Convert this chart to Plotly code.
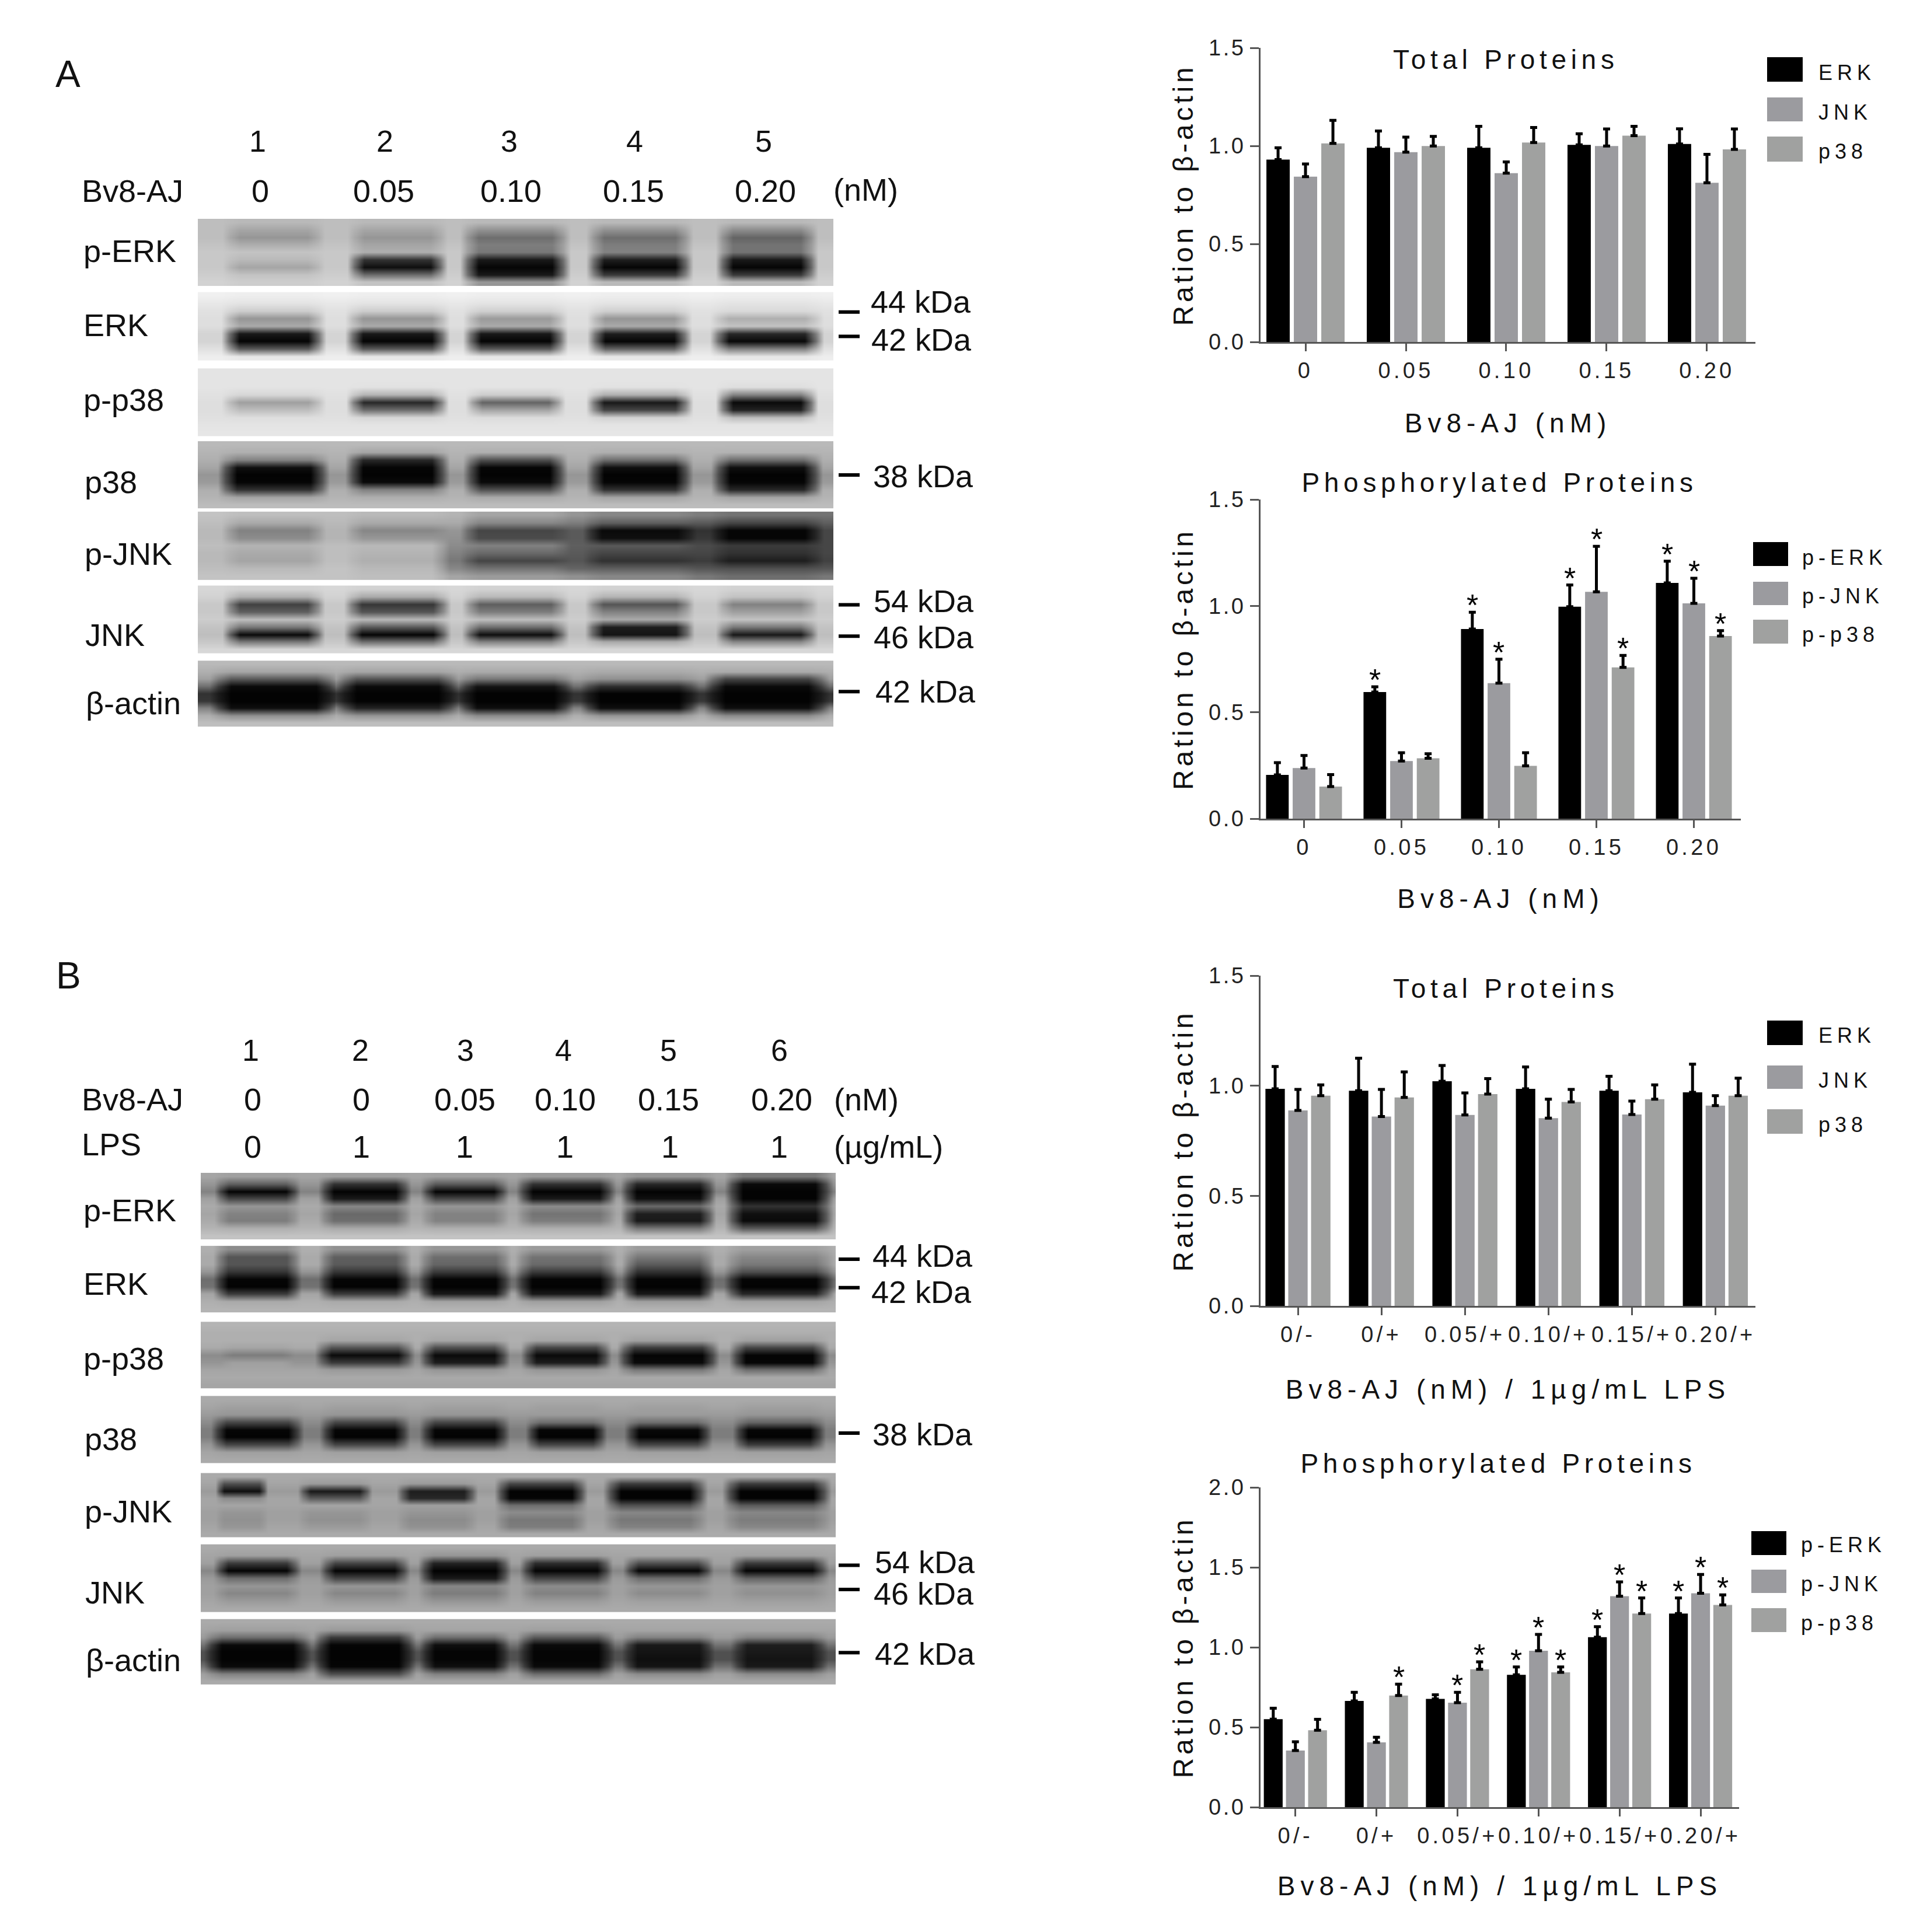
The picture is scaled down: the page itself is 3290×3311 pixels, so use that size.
import json
import plotly.graph_objects as go

W, H = 3290, 3311
FONT = "Liberation Sans"
BLACK, GREY1, GREY2 = "#000000", "#9b9b9f", "#a0a1a0"
AXIS = "#555555"

# ---------- chart data ----------
dose_a = ["0", "0.05", "0.10", "0.15", "0.20"]
dose_b = ["0/-", "0/+", "0.05/+", "0.10/+", "0.15/+", "0.20/+"]

a1_erk = [0.93, 0.99, 0.99, 1.005, 1.01]
a1_erk_err = [0.06, 0.086, 0.11, 0.057, 0.077]
a1_jnk = [0.843, 0.968, 0.861, 0.999, 0.812]
a1_jnk_err = [0.065, 0.077, 0.057, 0.087, 0.145]
a1_p38 = [1.013, 0.999, 1.017, 1.052, 0.982]
a1_p38_err = [0.117, 0.049, 0.077, 0.048, 0.104]

a2_erk = [0.206, 0.595, 0.891, 0.996, 1.108]
a2_erk_err = [0.057, 0.025, 0.079, 0.102, 0.102]
a2_jnk = [0.238, 0.271, 0.637, 1.066, 1.012]
a2_jnk_err = [0.059, 0.039, 0.112, 0.214, 0.118]
a2_p38 = [0.151, 0.284, 0.248, 0.711, 0.858]
a2_p38_err = [0.056, 0.021, 0.062, 0.056, 0.026]
a2_erk_star = [0, 1, 1, 1, 1]
a2_jnk_star = [0, 0, 1, 1, 1]
a2_p38_star = [0, 0, 0, 1, 1]

b1_erk = [0.986, 0.977, 1.02, 0.986, 0.977, 0.97]
b1_erk_err = [0.101, 0.148, 0.072, 0.099, 0.066, 0.128]
b1_jnk = [0.888, 0.86, 0.867, 0.853, 0.869, 0.91]
b1_jnk_err = [0.095, 0.123, 0.1, 0.086, 0.061, 0.045]
b1_p38 = [0.955, 0.947, 0.962, 0.926, 0.939, 0.955]
b1_p38_err = [0.049, 0.116, 0.07, 0.057, 0.065, 0.079]

b2_erk = [0.55, 0.664, 0.677, 0.828, 1.063, 1.211]
b2_erk_err = [0.069, 0.054, 0.026, 0.049, 0.066, 0.097]
b2_jnk = [0.354, 0.405, 0.653, 0.978, 1.319, 1.338]
b2_jnk_err = [0.055, 0.032, 0.065, 0.102, 0.09, 0.117]
b2_p38 = [0.481, 0.698, 0.862, 0.843, 1.211, 1.265]
b2_p38_err = [0.068, 0.071, 0.047, 0.034, 0.097, 0.063]
b2_erk_star = [0, 0, 0, 1, 1, 1]
b2_jnk_star = [0, 0, 1, 1, 1, 1]
b2_p38_star = [0, 1, 1, 1, 1, 1]

total_names = ["ERK", "JNK", "p38"]
phos_names = ["p-ERK", "p-JNK", "p-p38"]

# ---------- blot grey levels: each row = [gap, lane 1, lane 2, ...] ----------
ab_perk = [
    [190, 185, 185, 185, 185, 185], [190, 165, 165, 145, 145, 140], [190, 150, 150, 110, 110, 100],
    [195, 175, 165, 125, 125, 115], [200, 195, 175, 120, 130, 115], [200, 185, 50, 25, 30, 25],
    [200, 165, 15, 5, 5, 5], [205, 195, 110, 25, 60, 60], [210, 205, 195, 150, 185, 185]]
ab_erk = [
    [240, 238, 238, 238, 238, 238], [232, 228, 228, 228, 228, 228], [225, 205, 205, 208, 208, 218],
    [222, 150, 150, 155, 150, 175], [222, 170, 170, 170, 170, 195], [212, 25, 25, 25, 30, 40],
    [212, 6, 6, 6, 6, 10], [225, 90, 90, 90, 100, 130], [238, 232, 232, 232, 232, 232]]
ab_pp38 = [
    [228, 228, 228, 228, 228, 228], [228, 228, 228, 228, 228, 228], [228, 228, 226, 228, 226, 222],
    [225, 215, 180, 205, 175, 130], [222, 160, 40, 100, 25, 10], [222, 190, 110, 165, 70, 35],
    [224, 222, 215, 220, 210, 190], [228, 228, 228, 228, 228, 228], [230, 230, 230, 230, 230, 230]]
ab_p38 = [
    [185, 185, 185, 185, 185, 185], [180, 175, 165, 175, 175, 178], [175, 130, 40, 80, 110, 110],
    [165, 15, 5, 5, 15, 15], [150, 3, 3, 3, 3, 3], [155, 5, 10, 10, 5, 5],
    [175, 50, 130, 80, 50, 40], [180, 165, 175, 170, 165, 165], [188, 188, 188, 188, 188, 188]]
# rows with every gap listed: g0, l1, g1, l2, g2, l3, g3, l4, g4, l5, g5
ab_pjnk = [
    [195, 190, 190, 185, 180, 165, 150, 135, 125, 115, 115],
    [190, 170, 185, 170, 170, 135, 125, 95, 90, 70, 95],
    [185, 130, 180, 135, 150, 70, 90, 10, 50, 5, 70],
    [185, 140, 180, 150, 145, 75, 90, 15, 55, 5, 70],
    [190, 180, 190, 185, 140, 130, 95, 90, 75, 60, 70],
    [185, 170, 190, 180, 130, 105, 90, 70, 70, 50, 70],
    [185, 165, 190, 175, 120, 70, 85, 50, 60, 30, 65],
    [190, 185, 195, 185, 135, 115, 100, 95, 85, 80, 85],
    [195, 195, 195, 190, 165, 155, 145, 135, 120, 110, 120]]
ab_jnk = [
    [215, 210, 210, 210, 210, 210], [210, 175, 170, 185, 180, 195], [200, 65, 55, 95, 85, 130],
    [200, 95, 85, 125, 130, 160], [205, 190, 185, 190, 170, 195], [195, 120, 90, 110, 30, 120],
    [190, 10, 5, 15, 20, 25], [200, 120, 110, 130, 170, 135], [215, 215, 215, 215, 215, 215]]
ab_actin = [
    [185, 185, 185, 185, 185, 185], [175, 165, 165, 170, 170, 170], [160, 90, 85, 120, 145, 70],
    [110, 10, 10, 20, 45, 10], [50, 3, 3, 3, 3, 3], [55, 3, 3, 3, 3, 3],
    [130, 15, 35, 15, 15, 15], [175, 145, 150, 140, 150, 140], [190, 190, 190, 190, 190, 190]]

bb_perk = [
    [165, 160, 160, 160, 155, 150, 120], [150, 95, 50, 90, 50, 40, 10], [130, 5, 3, 5, 3, 3, 3],
    [160, 70, 25, 70, 25, 15, 3], [170, 150, 135, 150, 140, 105, 50], [165, 130, 105, 130, 115, 30, 15],
    [170, 125, 110, 130, 125, 25, 10], [180, 175, 170, 175, 175, 120, 90], [195, 195, 195, 195, 195, 195, 195]]
bb_erk = [
    [175, 140, 145, 150, 155, 155, 160], [170, 85, 95, 110, 115, 120, 135], [170, 85, 90, 100, 105, 90, 120],
    [150, 55, 55, 60, 60, 50, 80], [110, 5, 5, 5, 5, 5, 5], [115, 3, 3, 3, 3, 3, 3],
    [165, 60, 60, 25, 25, 25, 40], [175, 170, 170, 165, 160, 160, 165], [180, 180, 180, 180, 180, 180, 180]]
bb_pp38 = [
    [180, 180, 180, 180, 180, 180, 180], [175, 175, 175, 175, 175, 175, 175], [175, 175, 165, 165, 165, 160, 160],
    [170, 165, 85, 80, 70, 60, 70], [140, 125, 10, 10, 10, 5, 5], [150, 160, 60, 30, 30, 10, 5],
    [165, 165, 155, 150, 150, 120, 110], [170, 170, 170, 170, 170, 170, 170], [165, 165, 165, 165, 165, 165, 165]]
bb_p38 = [
    [170, 170, 170, 170, 170, 170, 170], [165, 160, 160, 160, 160, 160, 160], [155, 150, 150, 150, 155, 155, 150],
    [140, 70, 70, 70, 110, 110, 100], [125, 5, 5, 5, 5, 8, 5], [125, 3, 3, 3, 3, 3, 3],
    [150, 70, 70, 70, 70, 70, 60], [165, 160, 160, 160, 160, 160, 160], [170, 170, 170, 170, 170, 170, 170]]
bb_pjnk = [
    [170, 170, 170, 170, 170, 170, 170], [165, 80, 155, 155, 70, 60, 60], [155, 15, 25, 30, 3, 3, 3],
    [165, 140, 90, 40, 5, 3, 3], [165, 165, 165, 160, 110, 80, 90], [160, 150, 150, 150, 140, 135, 135],
    [160, 145, 145, 140, 120, 120, 125], [165, 150, 155, 145, 125, 130, 135], [170, 170, 170, 170, 170, 170, 170]]
bb_jnk = [
    [170, 170, 170, 170, 170, 170, 170], [165, 160, 160, 150, 160, 165, 160], [160, 60, 70, 35, 45, 80, 60],
    [135, 5, 5, 3, 5, 5, 5], [155, 110, 70, 25, 70, 110, 100], [160, 150, 150, 135, 140, 150, 150],
    [160, 135, 135, 125, 130, 140, 145], [165, 155, 155, 150, 155, 160, 160], [170, 170, 170, 170, 170, 170, 170]]
bb_actin = [
    [170, 170, 170, 170, 170, 170, 170], [165, 160, 155, 165, 160, 165, 165], [155, 110, 60, 110, 90, 130, 130],
    [115, 10, 5, 15, 10, 25, 30], [80, 3, 3, 5, 5, 20, 25], [80, 3, 3, 5, 5, 15, 20],
    [115, 10, 5, 15, 10, 20, 25], [160, 130, 80, 130, 110, 140, 140], [170, 170, 170, 170, 170, 170, 170]]

# ---------- text ----------
band_labels = ["p-ERK", "ERK", "p-p38", "p38", "p-JNK", "JNK", "β-actin"]

# ---------- layout constants ----------
BAR_GAP = 0.18
GROUP_GAP = 0.15
SLOT = (1 - BAR_GAP) / 3

LANES_A = [469, 681, 883, 1096, 1314]
LANES_B = [441, 625, 796, 970, 1145, 1335]
LANES_B_PJNK = [414, 574, 749, 927, 1123, 1331]


def ly(y):
    """Small vertical calibration of the left-hand panels, in page pixels."""
    if y < 1500:
        return y - 3 - max(0, y - 378) * 2 / 870
    return y - 2 - max(0, y - 2012) * 6 / 880


blots = [
    (341, 1433, 378, 493, ab_perk, LANES_A, [88, 86, 95, 92, 88]),
    (341, 1433, 504, 621, ab_erk, LANES_A, [90, 90, 90, 90, 98]),
    (341, 1433, 635, 751, ab_pp38, LANES_A, [90, 88, 86, 92, 88]),
    (341, 1433, 760, 875, ab_p38, LANES_A, [96, 90, 90, 92, 96]),
    (341, 1433, 881, 998, ab_pjnk, LANES_A, [90, 90, 95, 98, 98]),
    (341, 1433, 1008, 1124, ab_jnk, LANES_A, [88, 92, 92, 94, 88]),
    (341, 1433, 1137, 1250, ab_actin, LANES_A, [110, 106, 100, 102, 108]),
    (346, 1437, 2012, 2127, bb_perk, LANES_B, [74, 80, 76, 86, 82, 94]),
    (346, 1437, 2138, 2253, bb_erk, LANES_B, [76, 80, 80, 88, 80, 95]),
    (346, 1437, 2269, 2384, bb_pp38, LANES_B, [64, 86, 78, 78, 88, 86]),
    (346, 1437, 2397, 2513, bb_p38, LANES_B, [80, 78, 78, 70, 76, 80]),
    (346, 1437, 2530, 2641, bb_pjnk, LANES_B_PJNK, [45, 64, 70, 80, 90, 94]),
    (346, 1437, 2653, 2770, bb_jnk, LANES_B, [76, 78, 80, 80, 78, 86]),
    (346, 1437, 2782, 2895, bb_actin, LANES_B, [92, 88, 78, 84, 80, 84]),
]

fig = go.Figure()

# overlay pixel axes for the blots
fig.update_layout(
    xaxis5=dict(domain=[0, 1], range=[0, W], visible=False, anchor="y5", fixedrange=True, automargin=False),
    yaxis5=dict(domain=[0, 1], range=[H, 0], visible=False, anchor="x5", fixedrange=True, automargin=False),
)


def blot_trace(left, right, top, bottom, rows, lanes, half):
    n = len(lanes)
    top, bottom = ly(top), ly(bottom)
    left, right = left - 1, right - 6
    xs = [left, left + 2]
    for c, w in zip(lanes, half):
        xs += [c - w, c - 0.86 * w, c - 0.66 * w, c + 0.66 * w, c + 0.86 * w, c + w]
    xs += [right - 2, right]
    z = []
    for row in rows:
        if len(row) == n + 1:
            gaps = [row[0]] * (n + 1)
            vals = row[1:]
        else:
            gaps = row[0::2]
            vals = row[1::2]
        line = [gaps[0], gaps[0]]
        for i in range(n):
            a, b, v = gaps[i], gaps[i + 1], vals[i]
            line += [a, (a + v) * 0.5, v, v, (b + v) * 0.5, b]
        line += [gaps[n], gaps[n]]
        z.append(line)
    step = (bottom - top) / len(rows)
    ys = [top + (i + 0.5) * step for i in range(len(rows))]
    return go.Heatmap(x=xs, y=ys, z=z, xaxis="x5", yaxis="y5", zmin=0, zmax=255, zsmooth="best",
                      colorscale=[[0, "#000000"], [1, "#ffffff"]], showscale=False, hoverinfo="skip")


for b in blots:
    fig.add_trace(blot_trace(*b))

annotations = []
spacing_rules = []
shapes = []


def px_text(x, y, text, size, anchor="center", spacing=0):
    annotations.append(dict(x=x / W, y=1 - y / H, xref="paper", yref="paper", text=text, showarrow=False,
                            xanchor=anchor, yanchor="middle", align=anchor,
                            font=dict(family=FONT, size=size, color="#111111"),
                            borderpad=0, borderwidth=0))
    if spacing:
        spacing_rules.append('.annotation[data-index="%d"] text{letter-spacing:%gpx}' % (len(annotations) - 1, spacing))


def kda_tick(y):
    shapes.append(dict(type="line", xref="x5", yref="y5", x0=1437, x1=1473, y0=ly(y), y1=ly(y),
                       line=dict(color="#000000", width=6)))


# ---------- left-hand text ----------
px_text(116, ly(130), "A", 64)
px_text(117, 1672, "B", 64)

SZ = 54
for x, t in zip([441, 659, 872, 1087, 1308], ["1", "2", "3", "4", "5"]):
    px_text(x, ly(245), t, 52)
px_text(140, ly(330), "Bv8-AJ", SZ, "left")
for x, t in zip([446, 657, 875, 1085, 1311], dose_a):
    px_text(x, ly(330), t, SZ)
px_text(1428, ly(328), "(nM)", SZ, "left")

for y, x, t in zip([433, 560, 689, 830, 953, 1093, 1210], [143, 143, 143, 145, 145, 146, 147], band_labels):
    px_text(x, ly(y), t, SZ, "left")
for x, y, t in [(1492, 520, "44 kDa"), (1493, 585, "42 kDa"), (1496, 820, "38 kDa"),
                (1497, 1035, "54 kDa"), (1497, 1097, "46 kDa"), (1500, 1190, "42 kDa")]:
    px_text(x, ly(y), t, SZ, "left")
for y in [538, 580, 818, 1041, 1095, 1190]:
    kda_tick(y)

for x, t in zip([429, 617, 797, 965, 1145, 1335], ["1", "2", "3", "4", "5", "6"]):
    px_text(x, ly(1802), t, 52)
px_text(140, ly(1886), "Bv8-AJ", SZ, "left")
for x, t in zip([433, 619, 796, 968, 1145, 1339], ["0", "0", "0.05", "0.10", "0.15", "0.20"]):
    px_text(x, ly(1886), t, SZ)
px_text(1429, ly(1886), "(nM)", SZ, "left")
px_text(140, ly(1963), "LPS", SZ, "left")
for x, t in zip([433, 619, 796, 968, 1148, 1335], ["0", "1", "1", "1", "1", "1"]):
    px_text(x, ly(1967), t, SZ)
px_text(1429, ly(1967), "(µg/mL)", SZ, "left")

for y, x, t in zip([2076, 2203, 2332, 2471, 2596, 2736, 2853], [143, 143, 143, 145, 145, 146, 147], band_labels):
    px_text(x, ly(y), t, SZ, "left")
for x, y, t in [(1495, 2155, "44 kDa"), (1493, 2217, "42 kDa"), (1495, 2463, "38 kDa"),
                (1499, 2684, "54 kDa"), (1497, 2738, "46 kDa"), (1499, 2842, "42 kDa")]:
    px_text(x, ly(y), t, SZ, "left")
for y in [2161, 2210, 2461, 2689, 2731, 2840]:
    kda_tick(y)

# ---------- bar charts ----------
charts = [
    dict(n=1, cats=dose_a, series=[(a1_erk, a1_erk_err), (a1_jnk, a1_jnk_err), (a1_p38, a1_p38_err)], names=total_names,
         stars=None, px=(2160, 3008), py=(82, 586), xr=(-0.448, 4.483), yr=(0, 1.5), dt=0.5, title="Total Proteins",
         title_xy=(2580, 102), xtitle="Bv8-AJ (nM)", stand=55, swx=(3028, 3089), tx=3116,
         sw=[(98, 140), (167, 208), (234, 277)], ty=[124, 193, 260]),
    dict(n=2, cats=dose_a, series=[(a2_erk, a2_erk_err), (a2_jnk, a2_jnk_err), (a2_p38, a2_p38_err)], names=phos_names,
         stars=[a2_erk_star, a2_jnk_star, a2_p38_star], px=(2160, 2983), py=(856, 1403), xr=(-0.446, 4.482), yr=(0, 1.5), dt=0.5,
         title="Phosphorylated Proteins", title_xy=(2569, 827), xtitle="Bv8-AJ (nM)", stand=53, swx=(3004, 3064), tx=3088,
         sw=[(929, 970), (997, 1037), (1062, 1103)], ty=[955, 1022, 1087]),
    dict(n=3, cats=dose_b, series=[(b1_erk, b1_erk_err), (b1_jnk, b1_jnk_err), (b1_p38, b1_p38_err)], names=total_names,
         stars=None, px=(2160, 3008), py=(1672, 2238), xr=(-0.448, 5.48), yr=(0, 1.5), dt=0.5, title="Total Proteins",
         title_xy=(2580, 1694), xtitle="Bv8-AJ (nM) / 1µg/mL LPS", stand=59, swx=(3028, 3089), tx=3116,
         sw=[(1749, 1791), (1826, 1866), (1901, 1943)], ty=[1774, 1851, 1927]),
    dict(n=4, cats=dose_b, series=[(b2_erk, b2_erk_err), (b2_jnk, b2_jnk_err), (b2_p38, b2_p38_err)], names=phos_names,
         stars=[b2_erk_star, b2_jnk_star, b2_p38_star], px=(2160, 2980), py=(2549, 3097), xr=(-0.43, 5.475), yr=(0, 2.0), dt=0.5,
         title="Phosphorylated Proteins", title_xy=(2567, 2508), xtitle="Bv8-AJ (nM) / 1µg/mL LPS", stand=51, swx=(3001, 3061), tx=3086,
         sw=[(2624, 2665), (2690, 2730), (2756, 2797)], ty=[2647, 2714, 2781]),
]

colors = [BLACK, GREY1, GREY2]
css = []
for ch in charts:
    k = ch["n"]
    suffix = "" if k == 1 else str(k)
    xpositions = list(range(len(ch["cats"])))
    for j, ((vals, errs), name) in enumerate(zip(ch["series"], ch["names"])):
        fig.add_trace(go.Bar(
            x=xpositions, y=vals, name=name, marker=dict(color=colors[j], line=dict(width=0)),
            error_y=dict(type="data", symmetric=False, array=errs, arrayminus=[0] * len(errs),
                         color="#000000", thickness=5, width=6),
            xaxis="x" + suffix, yaxis="y" + suffix, showlegend=False))
    fig.update_layout(**{
        "xaxis" + suffix: dict(
            domain=[ch["px"][0] / W, ch["px"][1] / W], range=list(ch["xr"]), anchor="y" + suffix, automargin=False,
            tickmode="array", tickvals=xpositions, ticktext=ch["cats"], ticks="outside", ticklen=13, tickwidth=3,
            tickcolor=AXIS, showline=True, linecolor=AXIS, linewidth=3, showgrid=False, zeroline=False,
            ticklabelstandoff=0, tickangle=0, tickfont=dict(family=FONT, size=38, color="#222222"),
            title=dict(text=ch["xtitle"], standoff=ch["stand"], font=dict(family=FONT, size=46, color="#111111")),
            fixedrange=True),
        "yaxis" + suffix: dict(
            domain=[1 - ch["py"][1] / H, 1 - ch["py"][0] / H], range=list(ch["yr"]), anchor="x" + suffix, automargin=False,
            tick0=0, dtick=ch["dt"], tickformat=".1f", ticks="outside", ticklen=15, tickwidth=3, tickcolor=AXIS,
            showline=True, linecolor=AXIS, linewidth=3, showgrid=False, zeroline=False,
            tickfont=dict(family=FONT, size=38, color="#222222"),
            title=dict(text="Ration to β-actin", standoff=22, font=dict(family=FONT, size=48, color="#111111")),
            fixedrange=True),
    })
    px_text(ch["title_xy"][0], ch["title_xy"][1], ch["title"], 46, spacing=7.7)
    for (y0, y1), ty, name, col in zip(ch["sw"], ch["ty"], ch["names"], colors):
        shapes.append(dict(type="rect", xref="x5", yref="y5", x0=ch["swx"][0], x1=ch["swx"][1], y0=y0, y1=y1,
                           fillcolor=col, line=dict(width=0)))
        px_text(ch["tx"], ty, name, 36, "left", spacing=8)
    if ch["stars"]:
        for j, flags in enumerate(ch["stars"]):
            vals, errs = ch["series"][j]
            for i, f in enumerate(flags):
                if f:
                    annotations.append(dict(x=i + (j - 1) * SLOT, y=vals[i] + errs[i], xref="x" + suffix, yref="y" + suffix,
                                            text="*", showarrow=False, xanchor="center", yanchor="middle", yshift=12,
                                            font=dict(family=FONT, size=52, color="#000000")))
    tag = "" if k == 1 else str(k)
    css.append(".xtick text,.x%stick text{letter-spacing:5.3px}" % tag)
    css.append(".ytick text,.y%stick text{letter-spacing:3.5px}" % tag)
    css.append(".g-x%stitle text{letter-spacing:9px}" % tag)
    css.append(".g-y%stitle text{letter-spacing:5.8px}" % tag)

fig.update_layout(
    width=W, height=H, margin=dict(l=0, r=0, t=0, b=0, autoexpand=False), paper_bgcolor="#ffffff",
    plot_bgcolor="rgba(0,0,0,0)",
    barmode="group", bargap=BAR_GAP, bargroupgap=GROUP_GAP, showlegend=False,
    annotations=annotations, shapes=shapes, hovermode=False,
)

style = "".join(css + spacing_rules)
post = ("var s=document.createElement('style');s.textContent=%s;document.head.appendChild(s);"
        "document.body.style.margin='0';") % json.dumps(style)
fig.write_html("out.html", post_script=post, config={"displayModeBar": False})
